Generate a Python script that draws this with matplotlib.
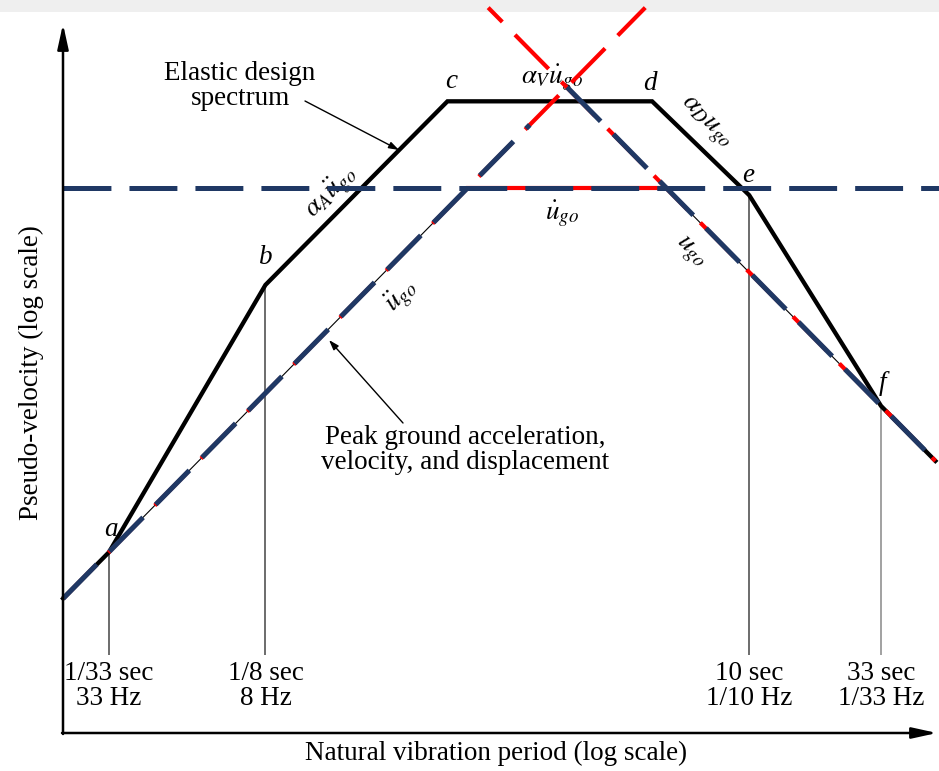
import matplotlib
matplotlib.use("Agg")
import matplotlib.pyplot as plt
from matplotlib.patches import Rectangle

W, H = 939, 771

# elastic design spectrum corners: period (s) and pseudo-velocity (in/s)
spec_T = [0.02, 1 / 33, 1 / 8, 0.65, 4.15, 10, 33, 54]
spec_V = [1.23, 1.86, 20.2, 104, 104, 45, 6.86, 4.2]

# peak ground motion (thin black trapezoid of the original figure)
ground_T = [0.02, 0.78, 4.7, 54]
ground_V = [1.23, 48, 48, 4.2]

# red dashed overlay: acceleration and displacement lines extended, plus flat part
red_acc_T, red_acc_V = [0.02, 3.9], [1.23, 240]
red_disp_T, red_disp_V = [0.94, 54], [240, 4.2]
red_vel_T, red_vel_V = [0.78, 4.7], [48, 48]

# blue dashed overlay
blue_acc_T, blue_acc_V = [0.02, 1.37], [1.23, 84.3]
blue_disp_T, blue_disp_V = [1.92, 54], [118, 4.2]
blue_vel_T, blue_vel_V = [0.02, 56], [48, 48]

# period marks
tick_T = [1 / 33, 1 / 8, 10, 33]
tick_V = [1.86, 20.2, 45, 6.86]
tick_labels = ['1/33 sec\n33 Hz', '1/8 sec\n8 Hz', '10 sec\n1/10 Hz', '33 sec\n1/33 Hz']
tick_colors = ['#444444', '#444444', '#444444', '#888888']

corner_names = ['a', 'b', 'c', 'd', 'e', 'f']
corner_pos = [(111, 530), (266, 258), (451, 82), (650, 84), (748, 175), (882, 384)]

NAVY = '#1f3864'
RED = '#ff0000'
SERIF = 'Liberation Serif'

plt.rcParams['mathtext.fontset'] = 'stix'
plt.rcParams['lines.scale_dashes'] = False
plt.rcParams['font.family'] = SERIF


def fp(x, y):
    # pixel position (from top-left) -> figure fraction
    return x / W, 1 - y / H


fig = plt.figure(figsize=(W / 100, H / 100), dpi=100)
ax = fig.add_axes([0, 0, 1, 1])
ax.set_xscale('log')
ax.set_yscale('log')
ax.set_xlim(0.01129, 55.8)
ax.set_ylim(0.2638, 256.9)
ax.set_axis_off()

# screenshot band at the top
ax.add_patch(Rectangle((0, 1 - 12 / H), 1, 12 / H, transform=fig.transFigure,
                       facecolor='#efefef', edgecolor='none', zorder=0, clip_on=False))

# original figure lines
ax.plot(ground_T, ground_V, color='black', lw=0.8, zorder=2)
ax.plot(spec_T, spec_V, color='black', lw=3.1, zorder=3, solid_joinstyle='miter')
ax.vlines(tick_T, 0.74, tick_V, colors=tick_colors, lw=1.1, zorder=2)

# dashed overlays
dash = (0, (34.5, 13))
ax.plot(red_acc_T, red_acc_V, color=RED, lw=3.0, linestyle=(1, (34.5, 13)), zorder=5, clip_on=False)
ax.plot(red_disp_T, red_disp_V, color=RED, lw=3.0, linestyle=(20, (34.5, 13)), zorder=5, clip_on=False)
ax.plot(red_vel_T, red_vel_V, color=RED, lw=3.0, zorder=5)
ax.plot(blue_acc_T, blue_acc_V, color=NAVY, lw=3.6, linestyle=dash, zorder=6)
ax.plot(blue_disp_T, blue_disp_V, color=NAVY, lw=3.6, linestyle=dash, zorder=6)
ax.plot(blue_vel_T, blue_vel_V, color=NAVY, lw=3.6, linestyle=dash, zorder=6)

# axes arrows
axis_arrow = dict(arrowstyle='-|>,head_length=1.5,head_width=0.33',
                  lw=1.8, color='black', shrinkA=0, shrinkB=0)
ax.annotate('', xy=fp(63, 24), xytext=fp(63, 734), xycoords='figure fraction',
            arrowprops=axis_arrow, zorder=7)
ax.annotate('', xy=fp(937, 733), xytext=fp(62, 733), xycoords='figure fraction',
            arrowprops=axis_arrow, zorder=7)

fs = 19.5
tf = fig.transFigure

# tick labels under the period marks
for t, lab in zip(tick_T, tick_labels):
    x = ax.transData.transform((t, 1))[0] / W
    ax.text(x, fp(0, 686)[1], lab, transform=tf, ha='center', va='center',
            fontsize=fs, linespacing=1.02, zorder=7)

for name, (x, y) in zip(corner_names, corner_pos):
    ax.text(*fp(x, y), name, transform=tf, ha='center', va='center',
            fontsize=fs, style='italic', zorder=7)

# line labels
ax.text(*fp(552, 78), r'$\alpha_V\dot{u}_{go}$', transform=tf, ha='center', va='center',
        fontsize=fs, zorder=4)
ax.text(*fp(705, 123), r'$\alpha_D u_{go}$', transform=tf, ha='center', va='center',
        fontsize=fs, rotation=-45, zorder=4)
ax.text(*fp(331, 192), r'$\alpha_A\ddot{u}_{go}$', transform=tf, ha='center', va='center',
        fontsize=fs, rotation=45, zorder=4)
ax.text(*fp(562, 214), r'$\dot{u}_{go}$', transform=tf, ha='center', va='center',
        fontsize=fs, zorder=4)
ax.text(*fp(401, 296), r'$\ddot{u}_{go}$', transform=tf, ha='center', va='center',
        fontsize=fs, rotation=45, zorder=4)
ax.text(*fp(690, 252), r'$u_{go}$', transform=tf, ha='center', va='center',
        fontsize=fs, rotation=-45, zorder=4)

# callouts
ax.text(*fp(240, 86), 'Elastic design\nspectrum', transform=tf, ha='center', va='center',
        fontsize=fs, linespacing=1.02, zorder=7)
ax.annotate('', xy=fp(399, 150), xytext=fp(305, 101), xycoords='figure fraction',
            arrowprops=dict(arrowstyle='-|>,head_length=0.6,head_width=0.2',
                            lw=1.0, color='black', shrinkA=0, shrinkB=0), zorder=7)
ax.text(*fp(465, 450), 'Peak ground acceleration,\nvelocity, and displacement',
        transform=tf, ha='center', va='center', fontsize=fs, linespacing=1.02, zorder=7)
ax.annotate('', xy=fp(329, 340), xytext=fp(403, 423), xycoords='figure fraction',
            arrowprops=dict(arrowstyle='-|>,head_length=0.6,head_width=0.2',
                            lw=1.0, color='black', shrinkA=0, shrinkB=0), zorder=7)

# axis titles
ax.text(*fp(31, 373), 'Pseudo-velocity (log scale)', transform=tf, ha='center', va='center',
        fontsize=fs, rotation=90, zorder=7)
ax.text(*fp(496, 753), 'Natural vibration period (log scale)', transform=tf, ha='center',
        va='center', fontsize=fs, zorder=7)

fig.savefig('out.png', dpi=100)
